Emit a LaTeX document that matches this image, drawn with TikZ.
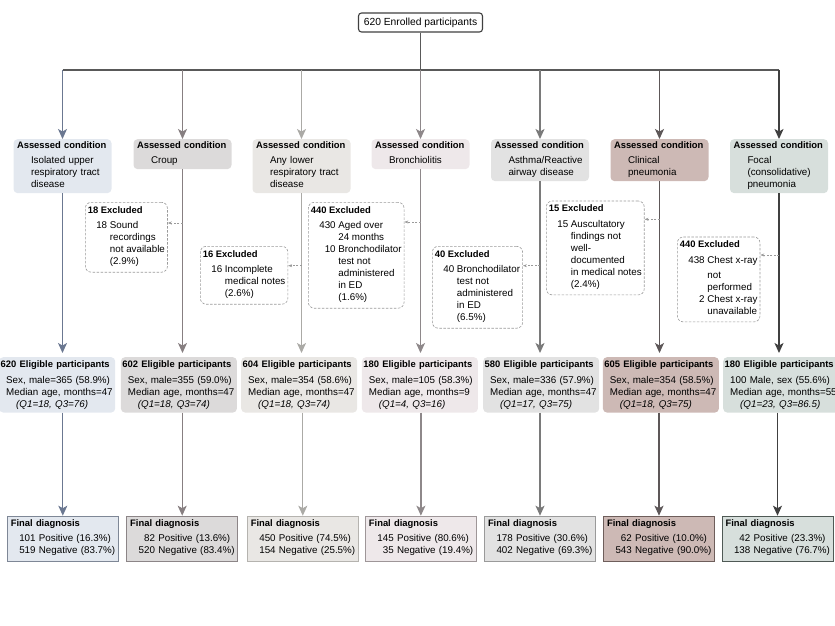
\documentclass[tikz,border=0pt]{standalone}
\usepackage{fontspec}
\setmainfont{Liberation Sans}
\usetikzlibrary{arrows.meta, positioning, calc}

\definecolor{line1}{HTML}{6B7891}
\definecolor{line2}{HTML}{877F81}
\definecolor{line3}{HTML}{ABAAA6}
\definecolor{line4}{HTML}{8E888A}
\definecolor{line5}{HTML}{7A7A7A}
\definecolor{line6}{HTML}{5D5758}
\definecolor{line7}{HTML}{404040}
\definecolor{fill1}{HTML}{E3E8EF}
\definecolor{fill2}{HTML}{DCDADA}
\definecolor{fill3}{HTML}{E9E7E4}
\definecolor{fill4}{HTML}{EEE8EA}
\definecolor{fill5}{HTML}{E2E2E2}
\definecolor{fill6}{HTML}{CDB9B5}
\definecolor{fill7}{HTML}{D7DFDC}
\definecolor{rim1}{HTML}{7E8796}
\definecolor{rim2}{HTML}{8C8587}
\definecolor{rim3}{HTML}{B5B3AF}
\definecolor{rim4}{HTML}{9E9698}
\definecolor{rim5}{HTML}{9A9A9A}
\definecolor{rim6}{HTML}{6E5E5B}
\definecolor{rim7}{HTML}{4F5955}
\definecolor{exgray}{HTML}{9A9A9A}
\definecolor{trunkgray}{HTML}{595959}

\newcommand{\hd}[1]{{\fontsize{9.4}{12}\selectfont\bfseries #1}}
\newcommand{\assessed}[1]{\hd{Assessed condition}\\[2.5pt]\hspace*{14pt}\begin{tabular}[t]{@{}l@{}}#1\end{tabular}}
\newcommand{\eligible}[4]{\hd{#1 Eligible participants}\\[3.5pt]\hspace*{5.5pt}#2\\\hspace*{5.5pt}Median age, months=#3\\\hspace*{15.5pt}\textit{(#4)}}
\newcommand{\excluded}[2]{\hd{#1 Excluded}\\[3.5pt]\hspace*{8.5pt}\begin{tabular}[t]{@{}r@{\ }l@{}}#2\end{tabular}}
\newcommand{\finaldx}[4]{\hd{Final diagnosis}\\[3pt]\hspace*{8.5pt}\begin{tabular}[t]{@{}r@{\ }l@{}}#1 & Positive (#2\%)\\#3 & Negative (#4\%)\end{tabular}}

\begin{document}
\begin{tikzpicture}[
    x=1pt, y=-1pt,
    font=\fontsize{9.8}{12}\selectfont,
    enrolbox/.style={draw=line7, line width=1.1pt, rounded corners=3pt, fill=white,
        minimum width=124pt, minimum height=19pt, inner sep=2pt, font=\fontsize{10.3}{12}\selectfont},
    condbox/.style={rounded corners=4pt, anchor=north, text width=91pt, inner xsep=3.5pt, inner ysep=2.5pt, align=left},
    eligbox/.style={rounded corners=4pt, anchor=north west, text width=113pt, inner xsep=1.5pt, inner ysep=3.5pt, align=left},
    exclbox/.style={draw=exgray, line width=0.6pt, dash pattern=on 2.5pt off 1.5pt, rounded corners=6pt,
        anchor=north west, align=left, inner xsep=2.5pt, inner ysep=4pt, fill=white},
    finbox/.style={anchor=north, text width=104pt, inner xsep=3.5pt, inner ysep=4pt, line width=0.9pt, align=left},
    trunk/.style={trunkgray, line width=1.4pt},
    drop/.style={line width=1.3pt, -{Stealth[length=10pt, width=9pt, inset=2.5pt]}},
    exarrow/.style={exgray, line width=0.6pt, dash pattern=on 2pt off 1.5pt, -{Stealth[length=4pt, width=3pt]}}
]
\useasboundingbox (0,0) rectangle (835,626);

% Enrolment and split
\node[enrolbox] (enrol) at (420.5,22.5) {620 Enrolled participants};
\coordinate (split) at (420.5,70);
\coordinate (b1) at (62.5,70);
\coordinate (b2) at (182.5,70);
\coordinate (b3) at (301.5,70);
\coordinate (b4) at (420.5,70);
\coordinate (b5) at (540,70);
\coordinate (b6) at (659.5,70);
\coordinate (b7) at (779,70);
\draw[trunk] (enrol) -- (split);
\draw[trunk] (b1) -- (b7);

% Assessed conditions
\node[condbox, fill=fill1] (cond1) at (62.5,139) {\assessed{Isolated upper\\respiratory tract\\disease}};
\node[condbox, fill=fill2] (cond2) at (182.5,139) {\assessed{Croup}};
\node[condbox, fill=fill3] (cond3) at (301.5,139) {\assessed{Any lower\\respiratory tract\\disease}};
\node[condbox, fill=fill4] (cond4) at (420.5,139) {\assessed{Bronchiolitis}};
\node[condbox, fill=fill5] (cond5) at (540,139) {\assessed{Asthma/Reactive\\airway disease}};
\node[condbox, fill=fill6] (cond6) at (659.5,139) {\assessed{Clinical\\pneumonia}};
\node[condbox, fill=fill7] (cond7) at (779,139) {\assessed{Focal\\(consolidative)\\pneumonia}};

\draw[drop, line1] (b1) -- (cond1);
\draw[drop, line2] (b2) -- (cond2);
\draw[drop, line3] (b3) -- (cond3);
\draw[drop, line4] (b4) -- (cond4);
\draw[drop, line5] (b5) -- (cond5);
\draw[drop, line6] (b6) -- (cond6);
\draw[drop, line7] (b7) -- (cond7);

% Eligible participants
\node[eligbox, fill=fill1] (elig1) at (-1,357) {\eligible{620}{Sex, male=365 (58.9\%)}{47}{Q1=18, Q3=76}};
\node[eligbox, fill=fill2] (elig2) at (120.7,357) {\eligible{602}{Sex, male=355 (59.0\%)}{47}{Q1=18, Q3=74}};
\node[eligbox, fill=fill3] (elig3) at (241,357) {\eligible{604}{Sex, male=354 (58.6\%)}{47}{Q1=18, Q3=74}};
\node[eligbox, fill=fill4] (elig4) at (361.7,357) {\eligible{180}{Sex, male=105 (58.3\%)}{9}{Q1=4, Q3=16}};
\node[eligbox, fill=fill5] (elig5) at (483,357) {\eligible{580}{Sex, male=336 (57.9\%)}{47}{Q1=17, Q3=75}};
\node[eligbox, fill=fill6] (elig6) at (602.7,357) {\eligible{605}{Sex, male=354 (58.5\%)}{47}{Q1=18, Q3=75}};
\node[eligbox, fill=fill7] (elig7) at (723,357) {\eligible{180}{100 Male, sex (55.6\%)}{55}{Q1=23, Q3=86.5}};

\draw[drop, line1, shorten >=4pt] (cond1) -- (cond1 |- elig1.north);
\draw[drop, line2, shorten >=4pt] (cond2) -- (cond2 |- elig2.north);
\draw[drop, line3, shorten >=4pt] (cond3) -- (cond3 |- elig3.north);
\draw[drop, line4, shorten >=4pt] (cond4) -- (cond4 |- elig4.north);
\draw[drop, line5, shorten >=4pt] (cond5) -- (cond5 |- elig5.north);
\draw[drop, line6, shorten >=4pt] (cond6) -- (cond6 |- elig6.north);
\draw[drop, line7, shorten >=4pt] (cond7) -- (cond7 |- elig7.north);

% Exclusions
\node[exclbox] (ex1) at (85,202) {\excluded{18}{18 & Sound\\ & recordings\\ & not available\\ & (2.9\%)}};
\node[exclbox] (ex2) at (200,246) {\excluded{16}{16 & Incomplete\\ & medical notes\\ & (2.6\%)}};
\node[exclbox] (ex3) at (308,202) {\excluded{440}{430 & Aged over\\ & 24 months\\10 & Bronchodilator\\ & test not\\ & administered\\ & in ED\\ & (1.6\%)}};
\node[exclbox] (ex4) at (432,246) {\excluded{40}{40 & Bronchodilator\\ & test not\\ & administered\\ & in ED\\ & (6.5\%)}};
\node[exclbox] (ex5) at (546,200.7) {\excluded{15}{15 & Auscultatory\\ & findings not\\ & well-\\ & documented\\ & in medical notes\\ & (2.4\%)}};
\node[exclbox] (ex6) at (677,236.7) {\excluded{440}{438 & Chest x-ray\\[3pt] & not\\ & performed\\2 & Chest x-ray\\ & unavailable}};

\coordinate (ex1src) at (182.5,223);
\coordinate (ex2src) at (301.5,265.7);
\coordinate (ex3src) at (420.5,222);
\coordinate (ex4src) at (540,265.7);
\coordinate (ex5src) at (659.5,219.3);
\coordinate (ex6src) at (779,255);
\draw[exarrow] (ex1src) -- (ex1src -| ex1.east);
\draw[exarrow] (ex2src) -- (ex2src -| ex2.east);
\draw[exarrow] (ex3src) -- (ex3src -| ex3.east);
\draw[exarrow] (ex4src) -- (ex4src -| ex4.east);
\draw[exarrow] (ex5src) -- (ex5src -| ex5.east);
\draw[exarrow] (ex6src) -- (ex6src -| ex6.east);

% Final diagnosis
\node[finbox, fill=fill1, draw=rim1] (fin1) at (62.8,515.7) {\finaldx{101}{16.3}{519}{83.7}};
\node[finbox, fill=fill2, draw=rim2] (fin2) at (182.2,515.7) {\finaldx{82}{13.6}{520}{83.4}};
\node[finbox, fill=fill3, draw=rim3] (fin3) at (302.8,515.7) {\finaldx{450}{74.5}{154}{25.5}};
\node[finbox, fill=fill4, draw=rim4] (fin4) at (420.9,515.7) {\finaldx{145}{80.6}{35}{19.4}};
\node[finbox, fill=fill5, draw=rim5] (fin5) at (540,515.7) {\finaldx{178}{30.6}{402}{69.3}};
\node[finbox, fill=fill6, draw=rim6] (fin6) at (659,515.7) {\finaldx{62}{10.0}{543}{90.0}};
\node[finbox, fill=fill7, draw=rim7] (fin7) at (777.5,515.7) {\finaldx{42}{23.3}{138}{76.7}};

\draw[drop, line1] (fin1 |- elig1.south) -- (fin1);
\draw[drop, line2] (fin2 |- elig2.south) -- (fin2);
\draw[drop, line3] (fin3 |- elig3.south) -- (fin3);
\draw[drop, line4] (fin4 |- elig4.south) -- (fin4);
\draw[drop, line5] (fin5 |- elig5.south) -- (fin5);
\draw[drop, line6] (fin6 |- elig6.south) -- (fin6);
\draw[drop, line7] (fin7 |- elig7.south) -- (fin7);

\end{tikzpicture}
\end{document}
